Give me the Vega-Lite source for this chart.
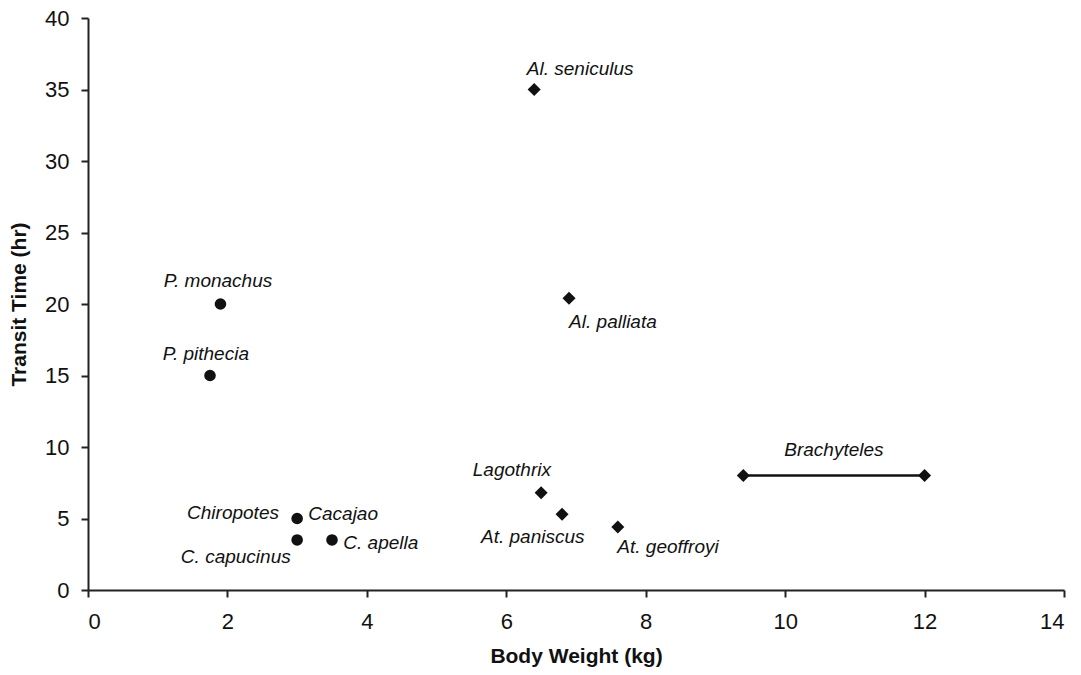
{
  "$schema": "https://vega.github.io/schema/vega-lite/v6.json",
  "width": 976,
  "height": 572,
  "autosize": {"type": "none"},
  "padding": {"left": 88, "top": 18, "right": 17, "bottom": 85},
  "background": "white",
  "config": {
    "view": {"stroke": null},
    "font": "Liberation Sans",
    "axis": {
      "grid": false,
      "domainColor": "#222",
      "domainWidth": 2,
      "tickColor": "#222",
      "tickWidth": 2,
      "tickSize": 7,
      "labelFont": "Liberation Sans",
      "labelFontSize": 22,
      "labelColor": "#111",
      "titleFont": "Liberation Sans",
      "titleFontSize": 21,
      "titleFontWeight": "bold",
      "titleColor": "#111"
    }
  },
  "datasets": {
    "pts": [
      {"taxon": "Al. seniculus", "genus": "atelid", "weight": 6.4, "transit": 35.0},
      {"taxon": "Al. palliata", "genus": "atelid", "weight": 6.9, "transit": 20.4},
      {"taxon": "Lagothrix", "genus": "atelid", "weight": 6.5, "transit": 6.8},
      {"taxon": "At. paniscus", "genus": "atelid", "weight": 6.8, "transit": 5.3},
      {"taxon": "At. geoffroyi", "genus": "atelid", "weight": 7.6, "transit": 4.4},
      {"taxon": "Brachyteles", "genus": "atelid", "weight": 9.4, "transit": 8.0},
      {"taxon": "Brachyteles", "genus": "atelid", "weight": 12.0, "transit": 8.0},
      {"taxon": "P. monachus", "genus": "other", "weight": 1.9, "transit": 20.0},
      {"taxon": "P. pithecia", "genus": "other", "weight": 1.75, "transit": 15.0},
      {"taxon": "Chiropotes", "genus": "other", "weight": 3.0, "transit": 5.0},
      {"taxon": "C. capucinus", "genus": "other", "weight": 3.0, "transit": 3.5},
      {"taxon": "C. apella", "genus": "other", "weight": 3.5, "transit": 3.5}
    ],
    "labels": [
      {"text": "Al. seniculus", "lx": 7.06, "ly": 36.4},
      {"text": "P. monachus", "lx": 1.865, "ly": 21.6},
      {"text": "P. pithecia", "lx": 1.69, "ly": 16.5},
      {"text": "Al. palliata", "lx": 7.53, "ly": 18.74},
      {"text": "Lagothrix", "lx": 6.08, "ly": 8.39},
      {"text": "At. paniscus", "lx": 6.38, "ly": 3.71},
      {"text": "At. geoffroyi", "lx": 8.32, "ly": 3.0},
      {"text": "Brachyteles", "lx": 10.7, "ly": 9.79},
      {"text": "Chiropotes", "lx": 2.08, "ly": 5.38},
      {"text": "Cacajao", "lx": 3.66, "ly": 5.31},
      {"text": "C. capucinus", "lx": 2.12, "ly": 2.31},
      {"text": "C. apella", "lx": 4.2, "ly": 3.29}
    ]
  },
  "layer": [
    {
      "data": {"name": "pts"},
      "transform": [{"filter": "datum.taxon === 'Brachyteles'"}],
      "mark": {"type": "line", "color": "#111", "strokeWidth": 2.5},
      "encoding": {
        "x": {"field": "weight", "type": "quantitative", "scale": {"domain": [0, 14]}, "axis": {"values": [0, 2, 4, 6, 8, 10, 12, 14], "format": "d", "title": "Body Weight (kg)", "titlePadding": 13, "labelPadding": 14}},
        "y": {"field": "transit", "type": "quantitative", "scale": {"domain": [0, 40]}, "axis": {"values": [0, 5, 10, 15, 20, 25, 30, 35, 40], "format": "d", "title": "Transit Time (hr)", "titlePadding": 15, "labelPadding": 12}}
      }
    },
    {
      "data": {"name": "pts"},
      "mark": {"type": "point", "filled": true, "opacity": 1, "color": "#111"},
      "encoding": {
        "x": {"field": "weight", "type": "quantitative"},
        "y": {"field": "transit", "type": "quantitative"},
        "shape": {"field": "genus", "type": "nominal", "scale": {"domain": ["atelid", "other"], "range": ["diamond", "circle"]}, "legend": null},
        "size": {"field": "genus", "type": "nominal", "scale": {"domain": ["atelid", "other"], "range": [170, 135]}, "legend": null}
      }
    },
    {
      "data": {"name": "labels"},
      "mark": {"type": "text", "font": "Liberation Sans", "fontStyle": "italic", "fontSize": 19, "color": "#111", "align": "center", "baseline": "middle"},
      "encoding": {
        "x": {"field": "lx", "type": "quantitative"},
        "y": {"field": "ly", "type": "quantitative"},
        "text": {"field": "text"}
      }
    }
  ]
}
